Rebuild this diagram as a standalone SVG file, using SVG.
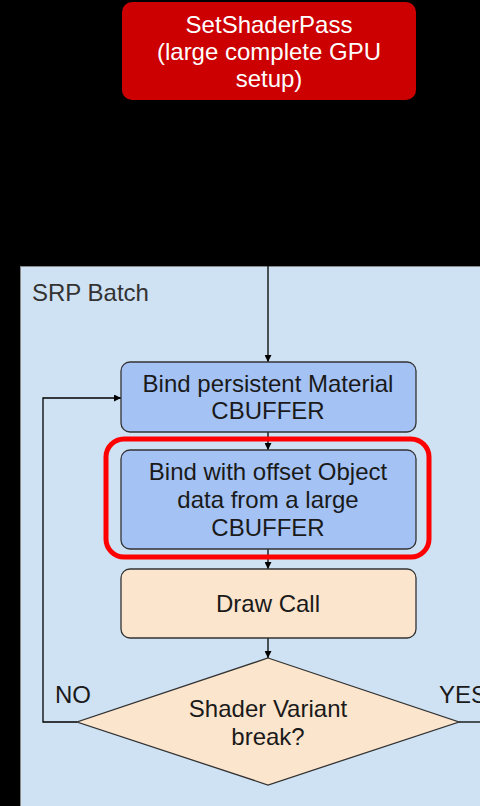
<svg xmlns="http://www.w3.org/2000/svg" width="480" height="806" viewBox="0 0 480 806">
  <style>
    text { font-family: "Liberation Sans", Arial, sans-serif; font-size: 24px; text-anchor: middle; fill: #1a1a1a; }
    .proc { fill: #a4c2f4; stroke: #333; stroke-width: 1.3; }
    .draw { fill: #fce5cd; stroke: #333; stroke-width: 1.3; }
    .edge { fill: none; stroke: #000; stroke-width: 1.3; }
  </style>
  <defs>
    <marker id="arrow" viewBox="0 0 10 10" refX="10" refY="5" markerWidth="7" markerHeight="7" orient="auto" markerUnits="userSpaceOnUse">
      <path d="M0,0 L10,5 L0,10 z" fill="#000"/>
    </marker>
  </defs>

  <rect x="0" y="0" width="480" height="806" fill="#000"/>

  <!-- SRP Batch container -->
  <g id="srp-batch">
    <rect x="20.5" y="266.5" width="470" height="550" fill="#cfe2f3" stroke="#888" stroke-width="1"/>
    <text x="32" y="301" style="text-anchor:start; fill:#333">SRP Batch</text>
  </g>

  <!-- connectors -->
  <g id="connectors">
    <path class="edge" d="M268,100 V362" marker-end="url(#arrow)"/>
    <path class="edge" d="M268,432 V450" marker-end="url(#arrow)"/>
    <path class="edge" d="M268,549 V569" marker-end="url(#arrow)"/>
    <path class="edge" d="M268,638 V658" marker-end="url(#arrow)"/>
    <path class="edge" d="M77,722 H43 V398 H121" marker-end="url(#arrow)"/>
    <path class="edge" d="M459,722 H480"/>
  </g>

  <g id="set-shader-pass">
    <rect x="122" y="2" width="294" height="98" rx="10" fill="#cc0000"/>
    <text x="269" y="33" style="fill:#fff">SetShaderPass</text>
    <text x="269" y="60" style="fill:#fff">(large complete GPU</text>
    <text x="269" y="87" style="fill:#fff">setup)</text>
  </g>

  <g id="bind-material">
    <rect class="proc" x="121" y="362" width="295" height="70" rx="9"/>
    <text x="268" y="392">Bind persistent Material</text>
    <text x="268" y="419">CBUFFER</text>
  </g>

  <g id="bind-object">
    <rect x="106" y="439" width="323" height="118" rx="18" fill="none" stroke="#ff0000" stroke-width="5"/>
    <rect class="proc" x="121" y="450" width="295" height="99" rx="9"/>
    <text x="268" y="480">Bind with offset Object</text>
    <text x="268" y="508">data from a large</text>
    <text x="268" y="536">CBUFFER</text>
  </g>

  <g id="draw-call">
    <rect class="draw" x="121" y="569" width="295" height="69" rx="9"/>
    <text x="268" y="612">Draw Call</text>
  </g>

  <g id="variant-break">
    <polygon class="draw" points="268,658 459,722 268,785 77,722"/>
    <text x="268" y="717">Shader Variant</text>
    <text x="268" y="745">break?</text>
  </g>

  <g id="labels">
    <text x="55" y="703" style="text-anchor:start">NO</text>
    <text x="439" y="703" style="text-anchor:start">YES</text>
  </g>
</svg>
